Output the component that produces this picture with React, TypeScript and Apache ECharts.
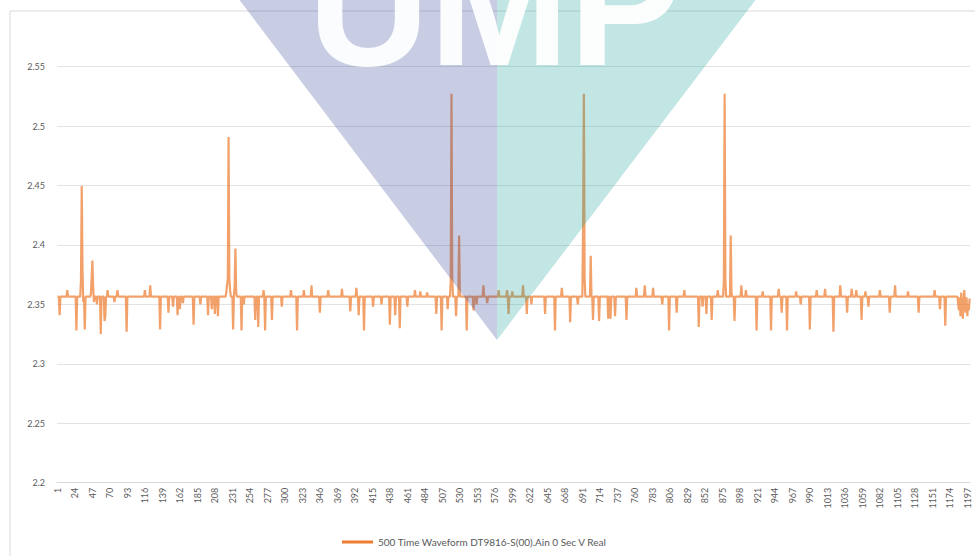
import React, { useEffect, useRef } from "react";
import * as echarts from "echarts";

const POINTS = 1200;
const categories: string[] = Array.from({ length: POINTS }, (_, i) => String(i + 1));

// flat level of the waveform
const baselineValue = 2.3565;

// numbered peaks
const peakIndex = [32, 225, 518, 692, 877];
const peakValue = [2.4496, 2.4908, 2.5273, 2.5273, 2.5273];
const peakLabel = ["1", "2", "3", "4", "5"];

// other departures from the flat level (index, value)
const deviationIndex = [
  3, 13, 25, 31, 33, 34, 36, 44, 45, 46, 47, 48, 52, 57, 62, 63, 66, 75, 79, 91,
  115, 122, 135, 146, 152, 158, 161, 165, 179, 188, 198, 203, 207, 211,
  222, 223, 224, 226, 227, 231, 233, 234, 235, 242, 245, 260, 264, 271, 273, 282, 295,
  307, 315, 324, 334, 345, 356, 374, 385, 393, 396, 403, 415, 426, 437, 444, 450,
  460, 470, 477, 486, 498, 505, 513, 517, 519, 524, 528, 529, 538, 547, 551, 560,
  565, 580, 591, 593, 598, 612, 617, 623, 641, 654, 663, 674, 684, 691, 693, 701,
  704, 712, 724, 727, 733, 748, 761, 772, 783, 795, 804, 814, 824, 843, 848, 853,
  860, 868, 876, 878, 885, 886, 890, 899, 905, 919, 927, 938, 948, 952, 959, 971,
  977, 989, 998, 1009, 1020, 1029, 1038, 1044, 1050, 1057, 1062, 1066, 1081, 1094,
  1101, 1118, 1132, 1153, 1160, 1167,
  1184, 1185, 1186, 1187, 1188, 1189, 1190, 1191, 1192, 1193, 1194, 1195, 1196, 1197, 1198, 1199,
];
const deviationValue = [
  2.341, 2.362, 2.328, 2.37, 2.381, 2.352, 2.329, 2.358, 2.372, 2.387, 2.365, 2.352, 2.35, 2.325, 2.336, 2.34, 2.362, 2.352, 2.362, 2.327,
  2.362, 2.366, 2.329, 2.343, 2.348, 2.341, 2.346, 2.351, 2.333, 2.35, 2.341, 2.346, 2.342, 2.34,
  2.36, 2.366, 2.372, 2.372, 2.362, 2.329, 2.366, 2.397, 2.36, 2.328, 2.35, 2.337, 2.331, 2.362, 2.328, 2.337, 2.348,
  2.362, 2.328, 2.362, 2.366, 2.343, 2.362, 2.363, 2.344, 2.364, 2.341, 2.328, 2.348, 2.35, 2.333, 2.341, 2.33,
  2.348, 2.362, 2.361, 2.36, 2.342, 2.328, 2.346, 2.37, 2.372, 2.34, 2.408, 2.36, 2.328, 2.345, 2.35, 2.366,
  2.351, 2.362, 2.362, 2.342, 2.361, 2.366, 2.342, 2.35, 2.342, 2.328, 2.364, 2.335, 2.35, 2.42, 2.37, 2.391,
  2.337, 2.336, 2.338, 2.338, 2.34, 2.337, 2.364, 2.366, 2.364, 2.35, 2.328, 2.343, 2.362, 2.331, 2.348, 2.342,
  2.337, 2.362, 2.37, 2.37, 2.408, 2.36, 2.336, 2.366, 2.362, 2.328, 2.361, 2.328, 2.363, 2.343, 2.328, 2.361,
  2.35, 2.329, 2.362, 2.363, 2.327, 2.366, 2.343, 2.363, 2.362, 2.337, 2.361, 2.348, 2.362, 2.343,
  2.366, 2.361, 2.343, 2.362, 2.346, 2.332,
  2.35, 2.345, 2.356, 2.34, 2.36, 2.352, 2.338, 2.348, 2.362, 2.35, 2.343, 2.356, 2.34, 2.35, 2.345, 2.355,
];

const seriesName = "500 Time Waveform DT9816-S(00).Ain 0 Sec V Real";
const yMin = 2.2;
const yMax = 2.55;
const yStep = 0.05;

function buildData() {
  const values: number[] = categories.map(() => baselineValue);
  deviationIndex.forEach((idx, k) => {
    values[idx] = deviationValue[k];
  });
  const data: any[] = values.map((v) => v);
  peakIndex.forEach((idx, k) => {
    data[idx] = {
      value: peakValue[k],
      label: {
        show: true,
        formatter: peakLabel[k],
        position: "top",
        distance: 3,
        fontSize: 12,
        color: "#404040",
        fontFamily: "Lato, 'Noto Sans', sans-serif",
      },
    };
  });
  return data;
}

export default function App() {
  const ref = useRef<HTMLDivElement>(null);
  useEffect(() => {
    if (!ref.current) return;
    const chart = echarts.init(ref.current, null, { renderer: "svg" });
    const font = "Lato, 'Noto Sans', sans-serif";
    chart.setOption({
      animation: false,
      backgroundColor: "#ffffff",
      grid: { left: 57, right: 5, top: 66.7, bottom: 73.3, containLabel: false },
      legend: {
        data: [seriesName],
        left: 337,
        top: 532,
        icon: "rect",
        itemWidth: 31,
        itemHeight: 3,
        itemGap: 5,
        textStyle: { fontSize: 10, color: "#595959", fontFamily: font },
      },
      xAxis: {
        type: "category",
        data: categories,
        boundaryGap: true,
        axisLine: { show: true, lineStyle: { color: "#d9d9d9", width: 1 } },
        axisTick: { show: false },
        axisLabel: {
          interval: 22,
          rotate: 90,
          fontSize: 9,
          color: "#595959",
          margin: 5,
          fontFamily: font,
        },
        splitLine: { show: false },
      },
      yAxis: {
        type: "value",
        min: yMin,
        max: yMax,
        interval: yStep,
        axisLine: { show: false },
        axisTick: { show: false },
        axisLabel: {
          fontSize: 9,
          color: "#595959",
          margin: 12,
          fontFamily: font,
          formatter: (v: number) => String(+v.toFixed(2)),
        },
        splitLine: { lineStyle: { color: "#e3e3e3", width: 1 } },
      },
      series: [
        {
          name: seriesName,
          type: "line",
          data: buildData(),
          showSymbol: false,
          symbol: "none",
          color: "#ED7D31",
          lineStyle: { color: "#ED7D31", width: 2.2, opacity: 0.72 },
          z: 3,
        },
      ],
      graphic: [
        {
          type: "line",
          shape: { x1: 10, y1: 11, x2: 975, y2: 11 },
          style: { stroke: "#d9d9d9", lineWidth: 1 },
          z: 1,
        },
        {
          type: "line",
          shape: { x1: 10, y1: 11, x2: 10, y2: 556 },
          style: { stroke: "#d9d9d9", lineWidth: 1 },
          z: 1,
        },
        {
          type: "polygon",
          shape: { points: [[238, -2], [497, -2], [497, 340]] },
          style: { fill: "rgb(40,60,150)", opacity: 0.256 },
          z: 100,
        },
        {
          type: "polygon",
          shape: { points: [[497, -2], [757, -2], [497, 340]] },
          style: { fill: "rgb(20,160,150)", opacity: 0.26 },
          z: 100,
        },
        {
          type: "text",
          x: 308,
          y: 91,
          style: {
            text: "UMP",
            fill: "#ffffff",
            opacity: 0.93,
            fontSize: 168,
            fontWeight: "bold",
            fontFamily: "'Liberation Sans', Arial, sans-serif",
            verticalAlign: "bottom",
            align: "left",
          },
          z: 101,
        },
      ],
    });
    return () => chart.dispose();
  }, []);
  return (
    <div
      ref={ref}
      style={{ position: "fixed", left: 0, top: 0, width: 975, height: 556, background: "#fff" }}
    />
  );
}
